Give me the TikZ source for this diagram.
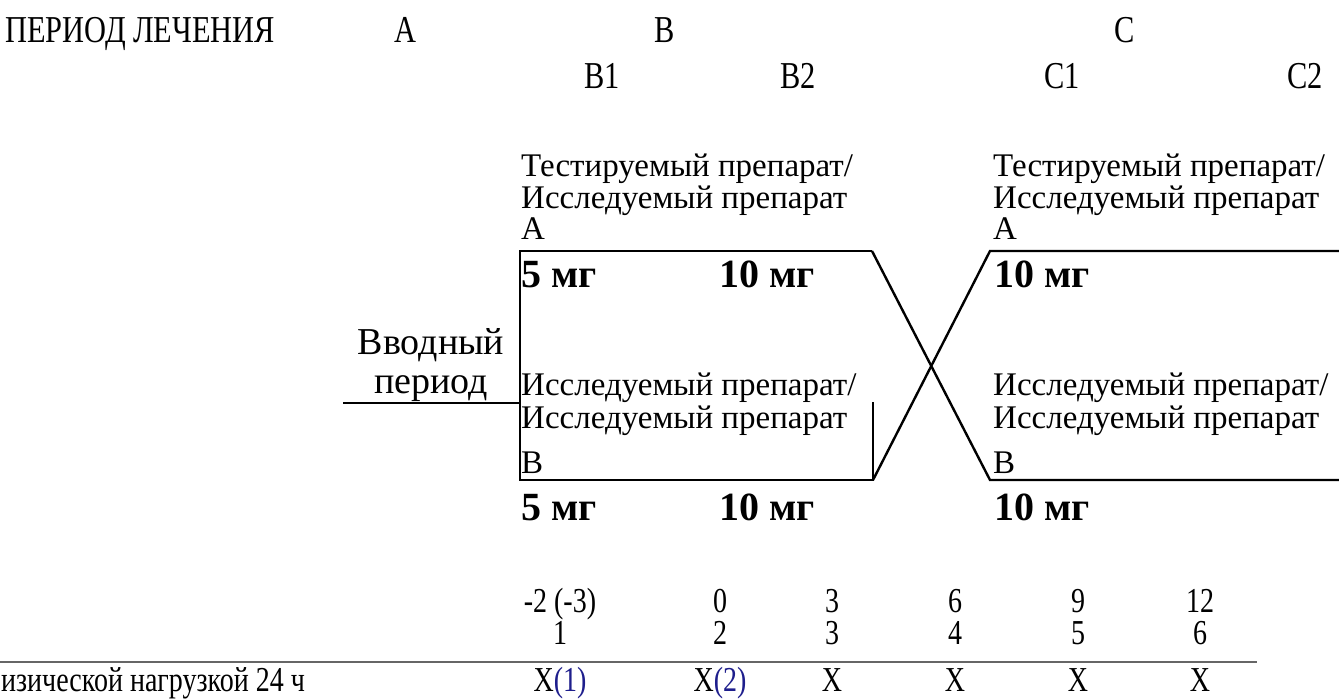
\documentclass[tikz,border=0pt]{standalone}
\usepackage{fontspec}
\setmainfont{Liberation Serif}
\newfontfamily\narrowserif{Liberation Serif}[FakeStretch=0.8]
\definecolor{refblue}{RGB}{30,30,140}

\tikzset{
  hdr/.style={inner sep=0pt, anchor=base, font=\narrowserif\fontsize{38}{42}\selectfont},
  lbl/.style={inner sep=0pt, anchor=base west, font=\fontsize{33}{36}\selectfont},
  dose/.style={inner sep=0pt, anchor=base west, font=\bfseries\fontsize{40}{44}\selectfont},
  runin/.style={inner sep=0pt, anchor=base, font=\fontsize{38}{42}\selectfont},
  cell/.style={inner sep=0pt, anchor=base, font=\narrowserif\fontsize{35}{38}\selectfont},
  armline/.style={line width=2.4pt},
}

\begin{document}
\begin{tikzpicture}[x=1pt,y=-1pt]
  \useasboundingbox (0,0) rectangle (1339,700); % page = reference size

  % treatment periods
  \node[hdr, anchor=base west] (period) at (5,43) {ПЕРИОД ЛЕЧЕНИЯ};
  \node[hdr] (perA) at (405,43) {A};
  \node[hdr] (perB) at (665,43) {B};
  \node[hdr] (perC) at (1125,43) {C};
  \foreach \x/\lab in {602/B1,798/B2,1062/C1,1305/C2}
    \node[hdr] (per\lab) at (\x,89) {\lab};

  % run-in
  \node[runin] (runin1) at (431,355) {Вводный};
  \node[runin] (runin2) at (431,394) {период};
  \coordinate (lead) at (343,403);

  % arm corners
  \coordinate (ltop) at (520,251);
  \coordinate (lbot) at (520,480);
  \coordinate (ltr) at (872,251);
  \coordinate (lbr) at (873,480);
  \coordinate (lstub) at (873,402);
  \coordinate (rtl) at (990,251);
  \coordinate (rbl) at (990,480);
  \coordinate (rtr) at (1339,251);
  \coordinate (rbr) at (1339,480);

  \draw[armline] (lead) -- (lead -| ltop);
  \draw[armline] (ltr) -- (ltop) -- (lbot) -- (lbr) -- (lstub);
  \draw[armline] (ltr) -- (rbl) -- (rbr);
  \draw[armline] (lbr) -- (rtl) -- (rtr);

  % arm labels
  \foreach \x/\s in {521/L,993/R} {
    \node[lbl] (tstA\s) at (\x,177) {Тестируемый препарат/};
    \node[lbl] (invA\s) at (\x,209) {Исследуемый препарат};
    \node[lbl] (armA\s) at (\x,240) {A};
    \node[lbl] (tstB\s) at (\x,396) {Исследуемый препарат/};
    \node[lbl] (invB\s) at (\x,429) {Исследуемый препарат};
    \node[lbl] (armB\s) at (\x,473) {B};
  }

  % doses
  \foreach \y/\s in {288/A,520/B} {
    \node[dose] (dose\s1) at (521,\y) {5 мг};
    \node[dose] (dose\s2) at (719,\y) {10 мг};
    \node[dose] (dose\s3) at (994,\y) {10 мг};
  }

  % visit table
  \coordinate (tl) at (0,662);
  \coordinate (tr) at (1257,662);
  \draw[gray!80!black, line width=1.4pt] (tl) -- (tr);
  \node[cell, anchor=base west] (exlab) at (1,691) {изической нагрузкой 24 ч};
  \foreach \x/\wk/\vis/\mk in {560/{-2 (-3)}/1/{X\textcolor{refblue}{(1)}},
      720/0/2/{X\textcolor{refblue}{(2)}}, 832/3/3/X, 955/6/4/X,
      1078/9/5/X, 1200/12/6/X} {
    \node[cell] (wk\vis) at (\x,612) {\wk};
    \node[cell] (vis\vis) at (\x,644) {\vis};
    \node[cell] (mk\vis) at (\x,691) {\mk};
  }
\end{tikzpicture}
\end{document}
